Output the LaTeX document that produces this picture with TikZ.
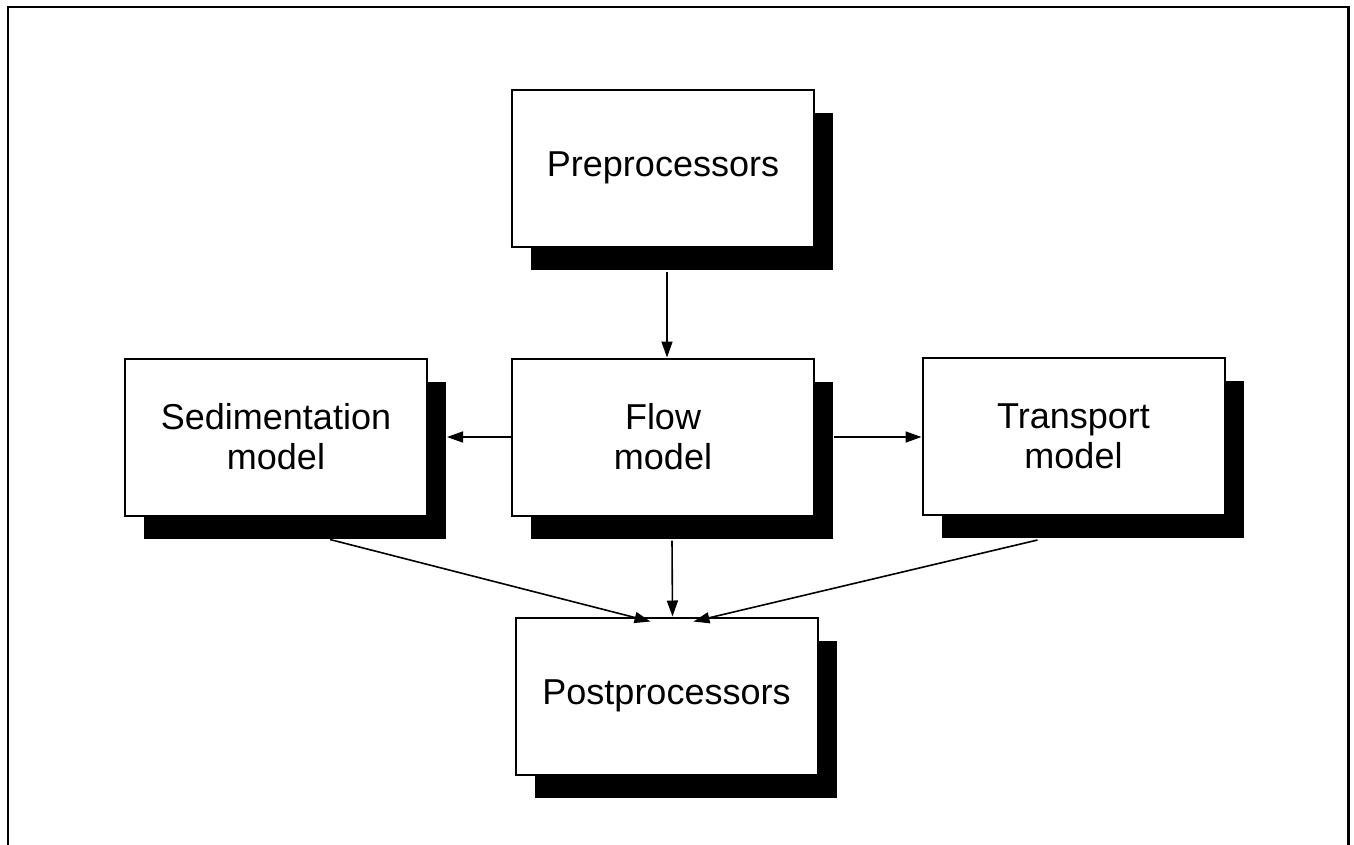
\documentclass[tikz,border=0pt]{standalone}
\usepackage{fontspec}
\setmainfont{Liberation Sans}
\usetikzlibrary{arrows.meta,shadows}
\begin{document}
\begin{tikzpicture}[x=1pt,y=-1pt,
  modbox/.style={draw=black, line width=2pt, fill=white, rectangle, inner sep=0pt,
    minimum width=302pt, minimum height=157pt, align=center,
    font=\fontsize{36}{40}\selectfont,
    drop shadow={shadow xshift=19pt, shadow yshift=-23pt, fill=black, opacity=1}},
  arr/.style={line width=1.6pt, -{Triangle[length=16pt,width=11pt]}},
  frame/.style={line width=2.6pt}]
\useasboundingbox (0,0) rectangle (1354,844);
\draw[frame] (8,850) -- (8,7) -- (1348.5,7) -- (1348.5,850);
\node[modbox] (pre) at (663,168) {Preprocessors};
\node[modbox] (sed) at (276,437) {Sedimentation\\model};
\node[modbox] (flow) at (663,437) {Flow\\model};
\node[modbox] (trans) at (1073.5,436.5) {Transport\\model};
\node[modbox] (post) at (666.5,696) {Postprocessors};
\draw[arr] ([shift={(4pt,-24pt)}]pre.south) -- ([xshift=4pt]flow.north);
\draw[arr] (flow.west) -- ([xshift=19pt]sed.east |- flow.west);
\draw[arr] ([xshift=19pt]flow.east) -- (trans.west |- flow.east);
\draw[arr] ([shift={(9pt,-24pt)}]flow.south) -- ([xshift=6pt]post.north);
\draw[arr] ([shift={(54pt,-23pt)}]sed.south) -- ([shift={(-16pt,-5pt)}]post.north);
\draw[arr] ([shift={(-36pt,-24pt)}]trans.south) -- ([shift={(27pt,-5pt)}]post.north);
\end{tikzpicture}
\end{document}
